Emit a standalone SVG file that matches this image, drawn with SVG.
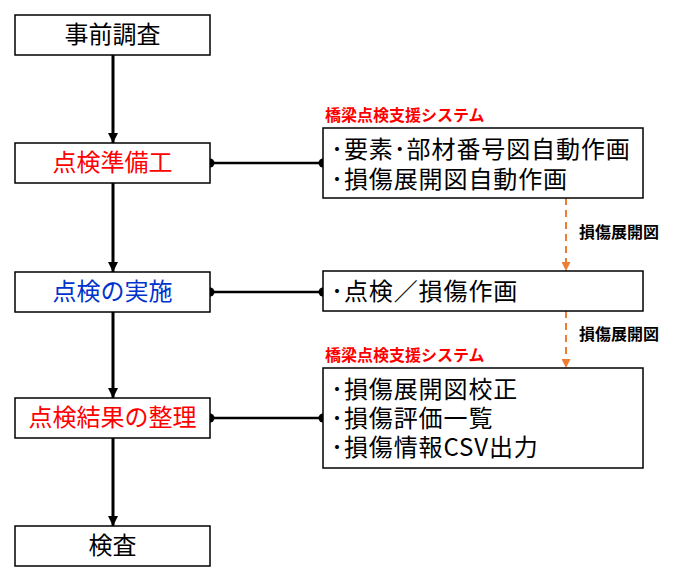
<svg xmlns="http://www.w3.org/2000/svg" width="694" height="588" viewBox="0 0 694 588">
<defs>
<marker id="ah" markerWidth="10" markerHeight="10" refX="10" refY="5" orient="auto" markerUnits="userSpaceOnUse" viewBox="0 0 10 10"><path d="M0,0 L10,5 L0,10 Z" fill="#000"/></marker>
<marker id="ao" markerWidth="9" markerHeight="9" refX="9" refY="4.5" orient="auto" markerUnits="userSpaceOnUse" viewBox="0 0 9 9"><path d="M0,0 L9,4.5 L0,9 Z" fill="#ED7D31"/></marker>
</defs>
<style>
.box{fill:#fff;stroke:#000;stroke-width:1.5}
.t{font-family:"Noto Sans CJK JP","Noto Sans CJK SC",sans-serif;font-size:24px;fill:#000}
.r{letter-spacing:0.9px}
.c{text-anchor:middle}
.red{fill:#ff0000}
.blue{fill:#0033cc}
.sys{font-family:"Noto Sans CJK JP",sans-serif;font-size:16px;font-weight:bold;fill:#ff0000}
.lbl{font-family:"Noto Sans CJK JP",sans-serif;font-size:16px;font-weight:bold;fill:#000}
.main{stroke:#000;stroke-width:3;fill:none}
.h{stroke:#000;stroke-width:2.5;fill:none}
.dash{stroke:#ED7D31;stroke-width:2;stroke-dasharray:7,5;fill:none}
</style>
<rect width="694" height="588" fill="#fff"/>
<g id="connectors">
<line class="main" x1="113" y1="55" x2="113" y2="143" marker-end="url(#ah)"/>
<line class="main" x1="113" y1="183" x2="113" y2="272" marker-end="url(#ah)"/>
<line class="main" x1="113" y1="312" x2="113" y2="398" marker-end="url(#ah)"/>
<line class="main" x1="113" y1="438" x2="113" y2="526" marker-end="url(#ah)"/>
<line class="h" x1="210" y1="163" x2="323" y2="163"/>
<circle cx="210" cy="163" r="4.5"/><circle cx="323" cy="163" r="4.5"/>
<line class="h" x1="210" y1="292" x2="323" y2="292"/>
<circle cx="210" cy="292" r="4.5"/><circle cx="323" cy="292" r="4.5"/>
<line class="h" x1="210" y1="418" x2="323" y2="418"/>
<circle cx="210" cy="418" r="4.5"/><circle cx="323" cy="418" r="4.5"/>
<line class="dash" x1="566" y1="198" x2="566" y2="271" marker-end="url(#ao)"/>
<line class="dash" x1="566" y1="311" x2="566" y2="368" marker-end="url(#ao)"/>
<text class="lbl" x="579" y="238">損傷展開図</text>
<text class="lbl" x="579" y="340">損傷展開図</text>
</g>
<g id="n1"><rect class="box" x="15" y="15" width="195" height="40"/><text class="t c" x="112.5" y="43">事前調査</text></g>
<g id="n2"><rect class="box" x="15" y="143" width="195" height="40"/><text class="t c red" x="112.5" y="171">点検準備工</text></g>
<g id="n3"><rect class="box" x="15" y="272" width="195" height="40"/><text class="t c blue" x="112.5" y="300">点検の実施</text></g>
<g id="n4"><rect class="box" x="15" y="398" width="195" height="40"/><text class="t c red" x="112.5" y="426">点検結果の整理</text></g>
<g id="n5"><rect class="box" x="15" y="526" width="195" height="40"/><text class="t c" x="112.5" y="554">検査</text></g>
<g id="sysA"><text class="sys" x="325" y="121">橋梁点検支援システム</text></g>
<g id="nA"><rect class="box" x="323" y="128" width="320" height="70"/>
<text class="t r" x="331" y="158">･要素･部材番号図自動作画</text>
<text class="t r" x="331" y="188">･損傷展開図自動作画</text></g>
<g id="nB"><rect class="box" x="323" y="271" width="320" height="40"/><text class="t r" x="331" y="300">･点検／損傷作画</text></g>
<g id="sysC"><text class="sys" x="325" y="361">橋梁点検支援システム</text></g>
<g id="nC"><rect class="box" x="323" y="368" width="320" height="100"/>
<text class="t r" x="331" y="398">･損傷展開図校正</text>
<text class="t r" x="331" y="427">･損傷評価一覧</text>
<text class="t r" x="331" y="456">･損傷情報CSV出力</text></g>
</svg>
